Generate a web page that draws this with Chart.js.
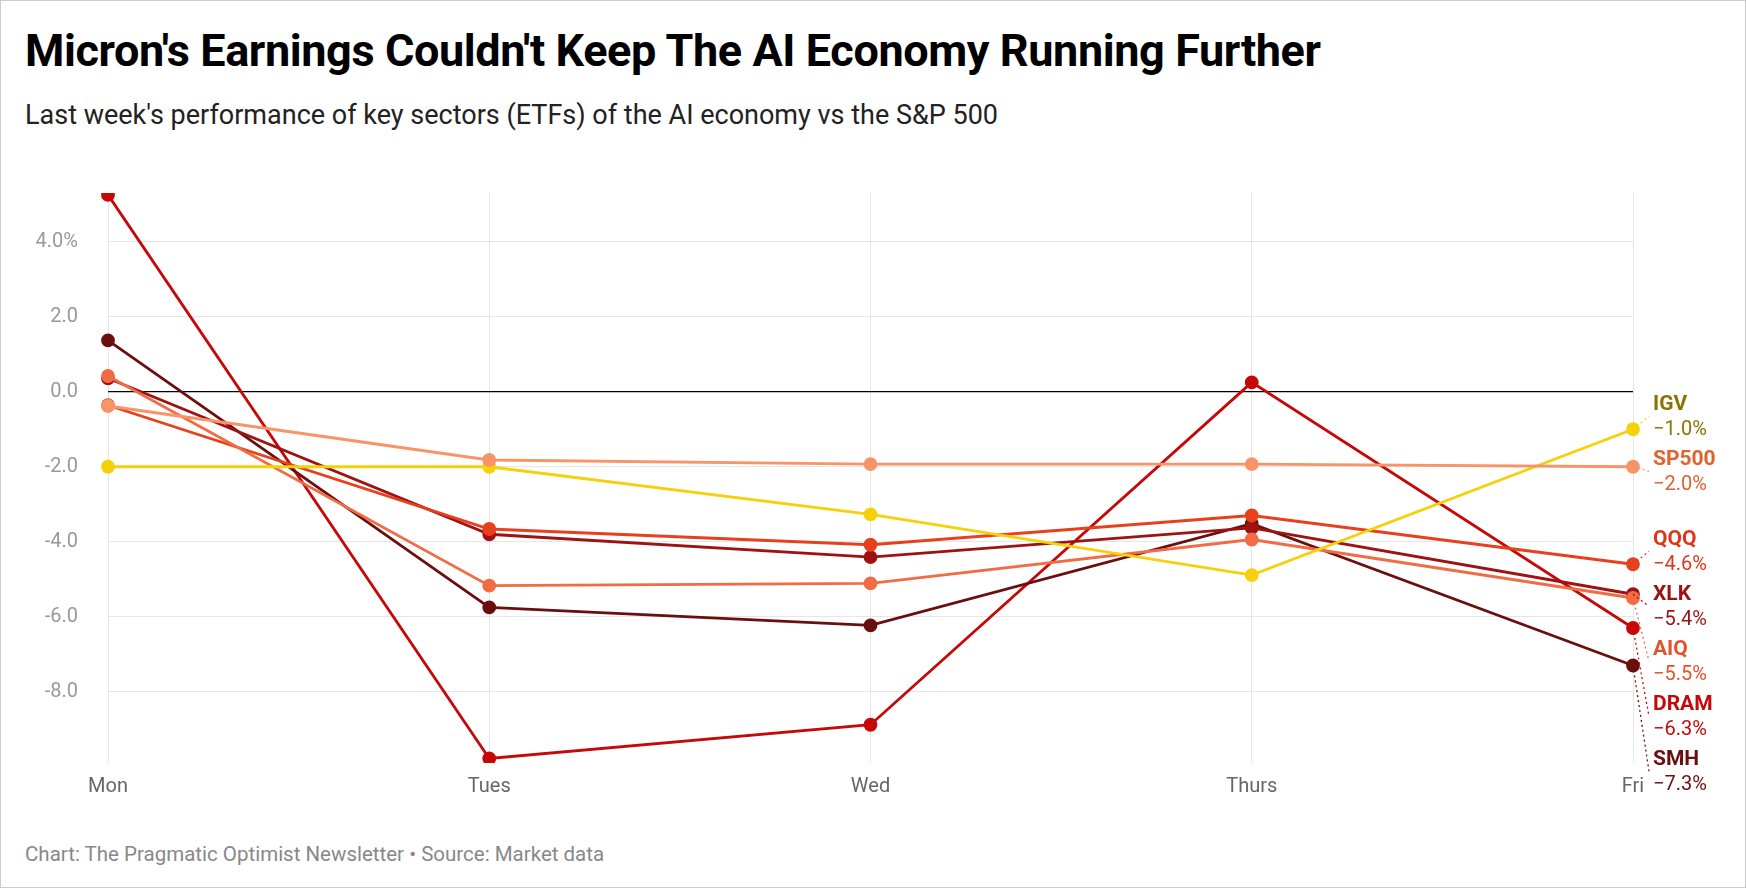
<!DOCTYPE html>
<html><head><meta charset="utf-8">
<script src="https://cdn.jsdelivr.net/npm/chart.js@4"></script>
<style>
body{margin:0;background:#fff;font-family:Roboto,sans-serif;}
#wrap{position:absolute;left:0;top:0;width:1744px;height:886px;border:1px solid #ccc;overflow:hidden}
#t{position:absolute;left:24px;top:22px;font-size:45px;font-weight:700;color:#000;letter-spacing:-0.4px;line-height:56px}
#s{position:absolute;left:24px;top:97px;font-size:27px;color:#222;line-height:34px}
#f{position:absolute;left:24px;top:839px;font-size:20.5px;color:#888;line-height:28px}
#c{position:absolute;left:0;top:150px;width:1746px;height:654px}
</style></head><body>
<div id="wrap">
<div id="t">Micron's Earnings Couldn't Keep The AI Economy Running Further</div>
<div id="s">Last week's performance of key sectors (ETFs) of the AI economy vs the S&amp;P 500</div>
<div id="c"><canvas id="cv"></canvas></div>
<div id="f">Chart: The Pragmatic Optimist Newsletter • Source: Market data</div>
</div>
<script>
const days=["Mon","Tues","Wed","Thurs","Fri"];
const IGV=[-2.0,-2.0,-3.27,-4.89,-1.0];
const SP500=[-0.38,-1.82,-1.93,-1.93,-2.0];
const QQQ=[-0.36,-3.66,-4.08,-3.3,-4.6];
const XLK=[0.36,-3.8,-4.41,-3.63,-5.4];
const AIQ=[0.42,-5.17,-5.11,-3.94,-5.5];
const DRAM=[5.25,-9.78,-8.88,0.25,-6.3];
const SMH=[1.37,-5.75,-6.23,-3.52,-7.3];
const yTicks=[4,2,0,-2,-4,-6,-8];
const series=[
 ["SP500",SP500,"#f99468","#e0622f"],
 ["IGV",IGV,"#f5d10a","#8a7400"],
 ["AIQ",AIQ,"#f26b45","#e0532b"],
 ["QQQ",QQQ,"#e8401c","#e0341a"],
 ["XLK",XLK,"#9e1212","#9e1212"],
 ["SMH",SMH,"#6b0e0e","#6b0e0e"],
 ["DRAM",DRAM,"#c70808","#c70808"]
];
const labelPlugin={id:'lbl',afterDatasetsDraw(ch){
 const ctx=ch.ctx,ys=ch.scales.y,xs=ch.scales.x;
 const items=ch.data.datasets.map((d,i)=>({d,i,py:ys.getPixelForValue(d.data[4])})).sort((a,b)=>a.py-b.py);
 let last=-1e9;
 items.forEach(it=>{let y=Math.max(it.py-25,last+55);it.ly=y;last=y;});
 const px=xs.getPixelForValue(4);
 items.forEach(it=>{
  const d=it.d;
  ctx.save();
  ctx.strokeStyle=d.borderColor;ctx.setLineDash([2,3]);ctx.lineWidth=1.3;
  ctx.beginPath();ctx.moveTo(px,it.py);ctx.lineTo(px+16,it.ly+12);ctx.stroke();
  ctx.setLineDash([]);
  ctx.fillStyle=d.lblColor;ctx.textBaseline='middle';ctx.textAlign='left';
  ctx.font='bold 21px Roboto';ctx.fillText(d.label,px+20,it.ly);
  ctx.font='20px Roboto';
  ctx.fillText('\u2212'+Math.abs(d.data[4]).toFixed(1)+'%',px+20,it.ly+26);
  ctx.restore();
 });
}};
new Chart(document.getElementById('cv'),{type:'line',
 data:{labels:days,datasets:series.map(s=>({label:s[0],data:s[1],borderColor:s[2],backgroundColor:s[2],lblColor:s[3],borderWidth:2.8,pointRadius:5.5,pointHoverRadius:5.5,tension:0}))},
 options:{responsive:true,maintainAspectRatio:false,animation:false,
  layout:{padding:{right:114,top:7,left:0,bottom:0}},
  plugins:{legend:{display:false},tooltip:{enabled:false}},
  scales:{
   x:{offset:false,grid:{color:'#e6e6e6',drawTicks:false},border:{display:false},
      afterFit(s){s.height=40;},
      ticks:{color:'#666',font:{size:20,family:'Roboto'},padding:12}},
   y:{min:-9.9,max:5.3,afterBuildTicks(s){s.ticks=yTicks.map(v=>({value:v}));},
      afterFit(s){s.width=107;},
      grid:{color:c=>c.tick&&c.tick.value===0?'#000':'#e6e6e6',lineWidth:c=>c.tick&&c.tick.value===0?1.3:1,drawTicks:false},
      border:{display:false},
      ticks:{color:'#999',font:{size:20,family:'Roboto'},padding:30,callback:v=>v===4?'4.0%':v.toFixed(1)}}
  }},
 plugins:[labelPlugin]});
</script></body></html>
